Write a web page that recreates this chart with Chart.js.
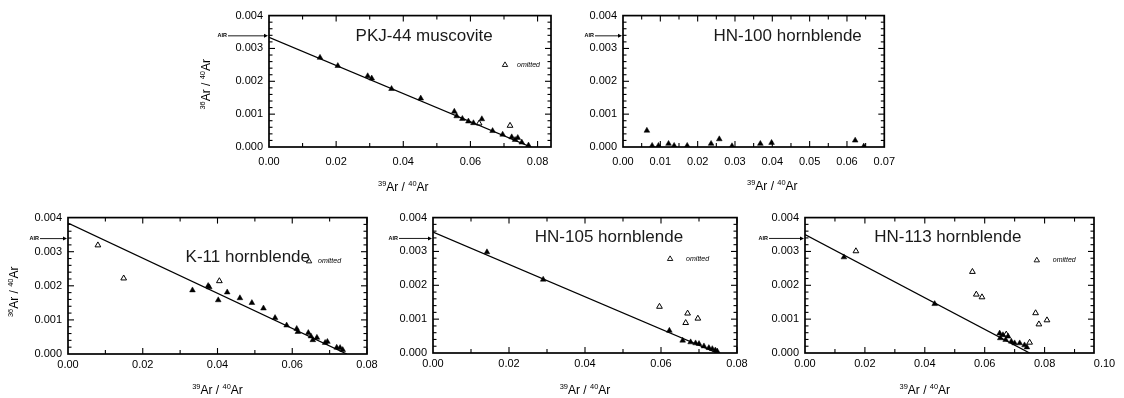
<!DOCTYPE html>
<html><head><meta charset="utf-8">
<script src="https://cdn.jsdelivr.net/npm/chart.js@4.4.1/dist/chart.umd.min.js"></script>
<style>
html,body{margin:0;padding:0;background:#fff;width:1124px;height:398px;overflow:hidden;position:relative}
canvas{position:absolute}
</style></head><body>
<canvas id="c1"></canvas><canvas id="c2"></canvas><canvas id="c3"></canvas><canvas id="c4"></canvas><canvas id="c5"></canvas>
<script>
// ---------- data ----------
const AIR_RATIO = 0.003384;
const yTickValues = [0, 0.001, 0.002, 0.003, 0.004];

const pkjFilled = [[0.0152,0.00272],[0.0205,0.00247],[0.0294,0.00216],[0.0306,0.00209],[0.0365,0.00177],[0.0452,0.00148],[0.0552,0.00108],[0.0559,0.00094],[0.0576,0.00086],[0.0594,0.00078],[0.0609,0.00073],[0.0634,0.00085],[0.0666,0.00049],[0.0696,0.00038],[0.0723,0.0003],[0.0733,0.00022],[0.0741,0.00028],[0.0753,0.00014],[0.0773,0.00005]];
const pkjOpen = [[0.0626,0.00072],[0.0718,0.00065]];
const pkjLine = [[0,0.00334],[0.078,0]];

const hn100Filled = [[0.0064,0.0005],[0.0078,0.00004],[0.0095,0.00004],[0.0122,0.0001],[0.0137,0.00004],[0.0172,0.00004],[0.0236,0.0001],[0.0258,0.00024],[0.0292,0.00003],[0.0368,0.0001],[0.0398,0.00013],[0.0622,0.0002],[0.0645,0.00002]];

const k11Filled = [[0.0333,0.00187],[0.0375,0.002],[0.0378,0.00196],[0.0402,0.00158],[0.0426,0.00181],[0.046,0.00164],[0.0492,0.0015],[0.0523,0.00134],[0.0554,0.00106],[0.0585,0.00084],[0.0612,0.00074],[0.0615,0.00065],[0.0643,0.00062],[0.065,0.00052],[0.0655,0.00041],[0.0666,0.00048],[0.0688,0.00033],[0.0694,0.00036],[0.0719,0.00019],[0.0728,0.00018],[0.0735,0.00012]];
const k11Open = [[0.008,0.00319],[0.0149,0.00222],[0.0405,0.00214]];
const k11Line = [[0,0.00384],[0.0746,0]];

const hn105Filled = [[0.0142,0.00298],[0.029,0.00217],[0.0622,0.00066],[0.0657,0.00037],[0.0678,0.00032],[0.0691,0.00029],[0.07,0.00027],[0.0713,0.0002],[0.0726,0.00015],[0.0735,0.00012],[0.0743,0.00008],[0.0748,0.00005]];
const hn105Open = [[0.0596,0.00137],[0.067,0.00117],[0.0665,0.00089],[0.0697,0.00102]];
const hn105Line = [[0,0.00357],[0.0748,0]];

const hn113Filled = [[0.013,0.00283],[0.0433,0.00145],[0.065,0.00058],[0.0652,0.00044],[0.0661,0.00053],[0.067,0.00039],[0.0678,0.00049],[0.0689,0.00034],[0.07,0.00029],[0.0717,0.00029],[0.0733,0.00023],[0.0741,0.00017]];
const hn113Open = [[0.017,0.00301],[0.0559,0.0024],[0.0572,0.00173],[0.0591,0.00165],[0.0672,0.00055],[0.075,0.00031],[0.077,0.00118],[0.0781,0.00085],[0.0808,0.00097]];
const hn113Line = [[0,0.0035],[0.075,0]];

const titles = ['PKJ-44 muscovite','HN-100 hornblende','K-11 hornblende','HN-105 hornblende','HN-113 hornblende'];

// ---------- layout / style ----------
const FONT = '"Liberation Sans", Arial, Helvetica, sans-serif';
const panels = [
  {id:'c1', title:titles[0], filled:pkjFilled, open:pkjOpen, line:pkjLine, L:269,R:551,T:13,B:147, lw:69,rp:20,tp:10,bh:51,
   xmax:0.084, xstep:0.02, xminor:0.01, xpad:8, yTitle:true, yTitleDx:-62, yTitleDy:3, xTitleDy:41,
   titlePos:[0.0462,0.00337], legend:[0.0703,0.0025,12], airStart:41},
  {id:'c2', title:titles[1], filled:hn100Filled, open:null, line:null, L:623,R:885,T:13,B:147, lw:48,rp:18,tp:10,bh:51,
   xmax:0.07, xstep:0.01, xminor:0.005, xpad:8, yTitle:false, xTitleDy:40,
   titlePos:[0.0441,0.00337], legend:null, airStart:28},
  {id:'c3', title:titles[2], filled:k11Filled, open:k11Open, line:k11Line, L:68,R:367,T:215,B:354, lw:68,rp:15,tp:10,bh:44,
   xmax:0.08, xstep:0.02, xminor:0.01, xpad:4, yTitle:true, yTitleDx:-53, yTitleDy:6, xTitleDy:37,
   titlePos:[0.0481,0.00285], legend:[0.0645,0.00272,9], airStart:28},
  {id:'c4', title:titles[3], filled:hn105Filled, open:hn105Open, line:hn105Line, L:433,R:737,T:215,B:353, lw:48,rp:15,tp:10,bh:45,
   xmax:0.08, xstep:0.02, xminor:0.01, xpad:4, yTitle:false, xTitleDy:38,
   titlePos:[0.0463,0.00342], legend:[0.0624,0.00278,16], airStart:34},
  {id:'c5', title:titles[4], filled:hn113Filled, open:hn113Open, line:hn113Line, L:805,R:1094,T:215,B:353, lw:48,rp:30,tp:10,bh:45,
   xmax:0.0965, xstep:0.02, xminor:0.01, xpad:4, extraX:0.1, yTitle:false, xTitleDy:38,
   titlePos:[0.0477,0.00342], legend:[0.0774,0.00274,16], airStart:36}
];

function richText(ctx, parts, cx, cy, size) {
  const supSize = size * 0.62;
  let w = 0;
  parts.forEach(p => { ctx.font = (p.sup ? supSize : size) + 'px ' + FONT; p.w = ctx.measureText(p.t).width; w += p.w; });
  let x = cx - w / 2;
  ctx.textAlign = 'left'; ctx.textBaseline = 'middle';
  parts.forEach(p => {
    ctx.font = (p.sup ? supSize : size) + 'px ' + FONT;
    ctx.fillText(p.t, x, p.sup ? cy - size * 0.36 : cy);
    x += p.w;
  });
}

function framePlugin(P) {
  return {
    id: 'frame',
    afterDraw(chart) {
      const {ctx, chartArea: a, scales: {x, y}} = chart;
      ctx.save();
      ctx.strokeStyle = '#000'; ctx.fillStyle = '#000';
      // inward ticks on all four sides
      ctx.lineWidth = 1.1;
      const seg = (x1, y1, x2, y2) => { ctx.beginPath(); ctx.moveTo(x1, y1); ctx.lineTo(x2, y2); ctx.stroke(); };
      const ratio = Math.round(P.xstep / P.xminor);
      for (let i = 1; i * P.xminor <= P.xmax + 1e-9; i++) {
        const px = x.getPixelForValue(i * P.xminor);
        const len = (i % ratio === 0) ? 6 : 4;
        seg(px, a.bottom, px, a.bottom - len);
        seg(px, a.top, px, a.top + len);
      }
      for (let i = 1; i < 20; i++) {
        const py = y.getPixelForValue(i * 0.0002);
        const len = (i % 5 === 0) ? 6 : 3.5;
        seg(a.left, py, a.left + len, py);
        seg(a.right, py, a.right - len, py);
      }
      // frame
      ctx.lineWidth = 1.7;
      ctx.strokeRect(a.left, a.top, a.right - a.left, a.bottom - a.top);
      // AIR arrow
      const ay = y.getPixelForValue(AIR_RATIO);
      ctx.lineWidth = 0.9;
      seg(a.left - P.airStart, ay, a.left - 3, ay);
      ctx.beginPath(); ctx.moveTo(a.left - 1, ay); ctx.lineTo(a.left - 5, ay - 2); ctx.lineTo(a.left - 5, ay + 2); ctx.closePath(); ctx.fill();
      ctx.font = 'bold 5.5px ' + FONT; ctx.textAlign = 'right'; ctx.textBaseline = 'middle';
      ctx.fillText('AIR', a.left - P.airStart - 1, ay);
      // panel title
      ctx.fillStyle = '#1a1a1a';
      ctx.font = '17px ' + FONT; ctx.textAlign = 'center'; ctx.textBaseline = 'middle';
      ctx.fillText(P.title, x.getPixelForValue(P.titlePos[0]), y.getPixelForValue(P.titlePos[1]));
      ctx.fillStyle = '#000';
      // omitted legend
      if (P.legend) {
        const lx = x.getPixelForValue(P.legend[0]), ly = y.getPixelForValue(P.legend[1]);
        ctx.lineWidth = 0.9;
        ctx.beginPath(); ctx.moveTo(lx, ly - 3); ctx.lineTo(lx + 2.7, ly + 1.6); ctx.lineTo(lx - 2.7, ly + 1.6); ctx.closePath(); ctx.stroke();
        ctx.font = 'italic 7px ' + FONT; ctx.textAlign = 'left'; ctx.textBaseline = 'middle';
        ctx.fillText('omitted', lx + P.legend[2], ly);
      }
      // x axis title
      richText(ctx, [{t:'39',sup:true},{t:'Ar / '},{t:'40',sup:true},{t:'Ar'}], x.getPixelForValue(0.04), a.bottom + P.xTitleDy, 12);
      // y axis title
      if (P.yTitle) {
        ctx.save();
        ctx.translate(a.left + P.yTitleDx, (a.top + a.bottom) / 2 + P.yTitleDy);
        ctx.rotate(-Math.PI / 2);
        richText(ctx, [{t:'36',sup:true},{t:'Ar / '},{t:'40',sup:true},{t:'Ar'}], 0, 0, 12);
        ctx.restore();
      }
      ctx.restore();
    }
  };
}

const toPts = arr => arr.map(([x, y]) => ({x, y}));

function makeChart(P) {
  const cv = document.getElementById(P.id);
  cv.width = (P.R - P.L) + P.lw + P.rp;
  cv.height = (P.B - P.T) + P.tp + P.bh;
  cv.style.left = (P.L - P.lw) + 'px';
  cv.style.top = (P.T - P.tp) + 'px';
  const datasets = [];
  if (P.line) datasets.push({type:'line', data: toPts(P.line), borderColor:'#000', borderWidth:1.3, pointRadius:0, fill:false, tension:0});
  datasets.push({data: toPts(P.filled), pointStyle:'triangle', pointRadius:3.3, backgroundColor:'#000', borderColor:'#000', borderWidth:0.5});
  if (P.open) datasets.push({data: toPts(P.open), pointStyle:'triangle', pointRadius:3.3, backgroundColor:'#fff', borderColor:'#000', borderWidth:1});
  const xScale = {
    type:'linear', min:0, max:P.xmax,
    grid:{display:false, drawTicks:false}, border:{display:false},
    ticks:{stepSize:P.xstep, autoSkip:false, maxRotation:0, includeBounds:false, padding:P.xpad,
      font:{family:FONT, size:11}, color:'#000', callback:v => Number(v).toFixed(2)},
    afterFit: s => { s.height = P.bh; }
  };
  if (P.extraX) xScale.afterBuildTicks = s => { s.ticks.push({value:P.extraX}); };
  new Chart(cv, {
    type:'scatter',
    data:{datasets},
    options:{
      responsive:false, animation:false, devicePixelRatio:1,
      layout:{padding:{left:0, right:P.rp, top:P.tp, bottom:0}},
      plugins:{legend:{display:false}, tooltip:{enabled:false}},
      scales:{
        x: xScale,
        y:{type:'linear', min:0, max:0.004,
          grid:{display:false, drawTicks:false}, border:{display:false},
          afterBuildTicks: s => { s.ticks = yTickValues.map(v => ({value:v})); },
          ticks:{padding:6, font:{family:FONT, size:11}, color:'#000', callback:v => Number(v).toFixed(3)},
          afterFit: s => { s.width = P.lw; }
        }
      }
    },
    plugins:[framePlugin(P)]
  });
}
panels.forEach(makeChart);
</script>
</body></html>
